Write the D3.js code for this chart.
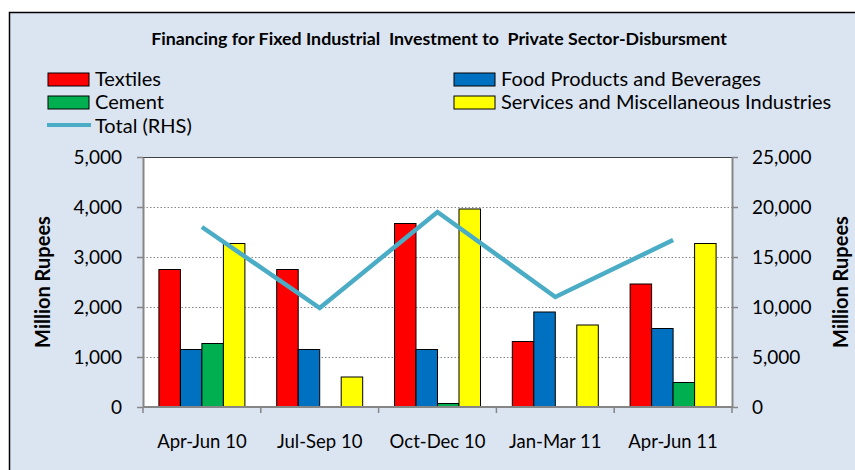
<!DOCTYPE html>
<html>
<head>
<meta charset="utf-8">
<script src="https://cdn.jsdelivr.net/npm/d3@7"></script>
<style>
  body { margin: 0; background: #fff; }
  svg { display: block; font-family: Lato, "Open Sans", sans-serif; }
</style>
</head>
<body>
<svg width="855" height="470"></svg>
<script>
// quarterly disbursements, million rupees
var quarters = ["Apr-Jun 10", "Jul-Sep 10", "Oct-Dec 10", "Jan-Mar 11", "Apr-Jun 11"];
var seriesNames = ["Textiles", "Food Products and Beverages", "Cement", "Services and Miscellaneous Industries"];
var textiles = [2750, 2750, 3670, 1310, 2460];
var foodBev = [1150, 1150, 1150, 1900, 1570];
var cement = [1270, 0, 70, 0, 490];
var services = [3270, 600, 3960, 1640, 3270];
var total = [18000, 9900, 19500, 11000, 16700];
var leftTicks = [0, 1000, 2000, 3000, 4000, 5000];
var rightTicks = [0, 5000, 10000, 15000, 20000, 25000];

var colors = ["#ff0000", "#0070c0", "#00b050", "#ffff00"];
var lineColor = "#4bacc6";
var seriesVals = [textiles, foodBev, cement, services];

var svg = d3.select("svg");

// chart frame
svg.append("rect")
  .attr("x", 9.5).attr("y", 12.5)
  .attr("width", 900).attr("height", 500)
  .attr("fill", "#dbe5f1")
  .attr("stroke", "#000").attr("stroke-width", 1.5);

const plot = {left: 143, right: 732, top: 157, bottom: 407};

var x = d3.scaleBand().domain(quarters).range([plot.left, plot.right]);
var xs = d3.scaleBand().domain(d3.range(4)).range([0, x.bandwidth()]).paddingOuter(0.74);
var y = d3.scaleLinear().domain([0, 5000]).range([plot.bottom, plot.top]);
var y2 = d3.scaleLinear().domain([0, 25000]).range([plot.bottom, plot.top]);

svg.append("rect")
  .attr("x", plot.left).attr("y", plot.top)
  .attr("width", plot.right - plot.left).attr("height", plot.bottom - plot.top)
  .attr("fill", "#fff");

// dotted gridlines
svg.append("g").selectAll("line")
  .data(leftTicks.slice(1, -1))
  .join("line")
  .attr("x1", plot.left).attr("x2", plot.right)
  .attr("y1", d => y(d) + 0.5).attr("y2", d => y(d) + 0.5)
  .attr("stroke", "#868686").attr("stroke-width", 1)
  .attr("stroke-dasharray", "1.5,2");

svg.append("line")
  .attr("x1", plot.left).attr("x2", plot.right)
  .attr("y1", plot.top + 0.5).attr("y2", plot.top + 0.5)
  .attr("stroke", "#404040").attr("stroke-width", 1);

// bars
var bars = [];
seriesVals.forEach(function(vals, s) {
  vals.forEach(function(v, i) {
    if (v > 0) bars.push({s: s, q: quarters[i], v: v});
  });
});
svg.append("g").selectAll("rect")
  .data(bars)
  .join("rect")
  .attr("x", d => x(d.q) + xs(d.s))
  .attr("y", d => y(d.v))
  .attr("width", xs.bandwidth())
  .attr("height", d => y(0) - y(d.v))
  .attr("fill", d => colors[d.s])
  .attr("stroke", "#000").attr("stroke-width", 1);

// axes
function styleAxis(g) {
  g.select(".domain").attr("stroke", "#868686").attr("stroke-width", 2);
  g.selectAll(".tick line").attr("stroke", "#868686").attr("stroke-width", 1.5);
  g.selectAll("text").attr("font-size", 19).attr("fill", "#000").attr("font-family", "Lato, sans-serif");
}

svg.append("g")
  .attr("transform", "translate(" + plot.left + ",0)")
  .call(d3.axisLeft(y).tickValues(leftTicks).tickFormat(d3.format(",")).tickSize(6).tickPadding(15).tickSizeOuter(0))
  .call(styleAxis);

svg.append("g")
  .attr("transform", "translate(" + plot.right + ",0)")
  .call(d3.axisRight(y2).tickValues(rightTicks).tickFormat(d3.format(",")).tickSize(6).tickPadding(14).tickSizeOuter(0))
  .call(styleAxis);

var xAxis = svg.append("g")
  .attr("transform", "translate(0," + plot.bottom + ")");
xAxis.append("line")
  .attr("x1", plot.left).attr("x2", plot.right)
  .attr("stroke", "#868686").attr("stroke-width", 2);
xAxis.selectAll(".tk")
  .data(quarters.map(q => x(q)).concat([plot.right]))
  .join("line")
  .attr("x1", d => d).attr("x2", d => d)
  .attr("y1", 0).attr("y2", 6)
  .attr("stroke", "#868686").attr("stroke-width", 1.5);
xAxis.selectAll("text")
  .data(quarters)
  .join("text")
  .attr("x", d => x(d) + x.bandwidth() / 2)
  .attr("y", 41)
  .attr("text-anchor", "middle")
  .attr("font-size", 18.5)
  .text(d => d);

// total line on right axis
var line = d3.line()
  .x((d, i) => x(quarters[i]) + x.bandwidth() / 2)
  .y(d => y2(d));
svg.append("path")
  .datum(total)
  .attr("d", line)
  .attr("fill", "none")
  .attr("stroke", lineColor)
  .attr("stroke-width", 4.5);

// titles
svg.append("text")
  .attr("x", 439).attr("y", 45)
  .attr("text-anchor", "middle")
  .attr("font-size", 17.8).attr("font-weight", "bold")
  .text("Financing for Fixed Industrial  Investment to  Private Sector-Disbursment")
  .style("white-space", "pre");

svg.append("text")
  .attr("transform", "translate(50,282) rotate(-90)")
  .attr("text-anchor", "middle")
  .attr("font-size", 20).attr("font-weight", "bold")
  .text("Million Rupees");

svg.append("text")
  .attr("transform", "translate(848,282) rotate(-90)")
  .attr("text-anchor", "middle")
  .attr("font-size", 20).attr("font-weight", "bold")
  .text("Million Rupees");

// legend
var legendItems = [
  {name: seriesNames[0], c: colors[0], x: 48, y: 79},
  {name: seriesNames[2], c: colors[2], x: 48, y: 102},
  {name: seriesNames[1], c: colors[1], x: 454, y: 79},
  {name: seriesNames[3], c: colors[3], x: 454, y: 102}
];
var lg = svg.append("g");
lg.selectAll("rect")
  .data(legendItems)
  .join("rect")
  .attr("x", d => d.x).attr("y", d => d.y - 6)
  .attr("width", 41).attr("height", 13)
  .attr("fill", d => d.c)
  .attr("stroke", "#000").attr("stroke-width", 1);
lg.selectAll("text")
  .data(legendItems.concat([{name: "Total (RHS)", x: 48, y: 126}]))
  .join("text")
  .attr("x", d => d.x + 47).attr("y", d => d.y + 7)
  .attr("font-size", 20)
  .text(d => d.name);
lg.append("line")
  .attr("x1", 47).attr("x2", 91)
  .attr("y1", 125).attr("y2", 125)
  .attr("stroke", lineColor).attr("stroke-width", 4);
</script>
</body>
</html>
